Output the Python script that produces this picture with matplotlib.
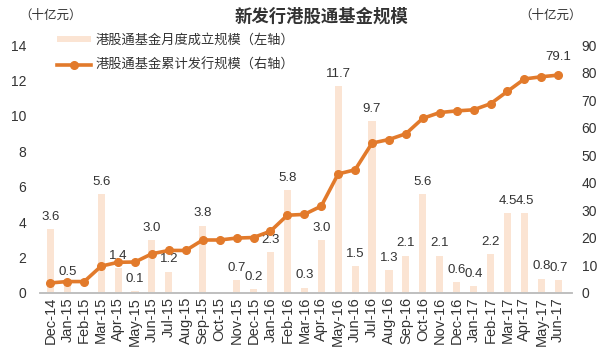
import matplotlib
matplotlib.use("Agg")
import matplotlib.pyplot as plt
from matplotlib.lines import Line2D
from matplotlib.patches import Patch

plt.rcParams["font.family"] = ["Liberation Sans", "Noto Sans CJK SC"]

months = ["Dec-14", "Jan-15", "Feb-15", "Mar-15", "Apr-15", "May-15", "Jun-15", "Jul-15",
          "Aug-15", "Sep-15", "Oct-15", "Nov-15", "Dec-15", "Jan-16", "Feb-16", "Mar-16",
          "Apr-16", "May-16", "Jun-16", "Jul-16", "Aug-16", "Sep-16", "Oct-16", "Nov-16",
          "Dec-16", "Jan-17", "Feb-17", "Mar-17", "Apr-17", "May-17", "Jun-17"]
monthly = [3.6, 0.5, 0.0, 5.6, 1.4, 0.1, 3.0, 1.2, 0.0, 3.8, 0.0, 0.7, 0.2, 2.3, 5.8, 0.3,
           3.0, 11.7, 1.5, 9.7, 1.3, 2.1, 5.6, 2.1, 0.6, 0.4, 2.2, 4.5, 4.5, 0.8, 0.7]
cumulative = [3.6, 4.1, 4.1, 9.7, 11.1, 11.2, 14.2, 15.4, 15.4, 19.2, 19.2, 19.9, 20.1,
              22.4, 28.2, 28.5, 31.5, 43.2, 44.7, 54.4, 55.7, 57.8, 63.4, 65.5, 66.1,
              66.5, 68.7, 73.2, 77.7, 78.5, 79.1]

BAR_C = "#FBE4D3"
LINE_C = "#E27A2B"
TXT_C = "#333333"

fig = plt.figure(figsize=(6.0, 3.58), dpi=100)
ax = fig.add_axes([0.067, 0.182, 0.886, 0.692])
ax2 = ax.twinx()

x = list(range(len(months)))
ax.bar(x, monthly, width=0.42, color=BAR_C, zorder=1)
for xi, v in zip(x, monthly):
    if v > 0:
        ax.text(xi, v + 0.35, f"{v:.1f}", ha="center", va="bottom", fontsize=9.5, color=TXT_C)

# cumulative line on the right axis
ax2.plot(x, cumulative, "-o", color=LINE_C, lw=2.6, ms=5.5, zorder=3)
ax2.text(x[-1], cumulative[-1] + 4.5, f"{cumulative[-1]:.1f}", ha="center", va="bottom",
         fontsize=9.5, color=TXT_C)

ax.set_xlim(-0.6, 30.8)
ax.set_ylim(0, 14)
ax2.set_ylim(0, 90)
ax.set_yticks(range(0, 15, 2))
ax2.set_yticks(range(0, 91, 10))
ax.set_xticks(x)
ax.set_xticklabels(months, rotation=90, fontsize=10.5, color=TXT_C)
ax.tick_params(axis="y", length=0, labelsize=10, labelcolor=TXT_C, pad=10)
ax2.tick_params(axis="y", length=0, labelsize=10, labelcolor=TXT_C, pad=7)
ax.tick_params(axis="x", length=0, pad=3)

for a in (ax, ax2):
    for s in ("top", "left", "right"):
        a.spines[s].set_visible(False)
    a.spines["bottom"].set_color("#BFBFBF")
    a.spines["bottom"].set_linewidth(1.2)

fig.text(0.535, 0.955, "新发行港股通基金规模", ha="center", va="center", fontsize=12.5,
         fontweight="bold", color=TXT_C)
fig.text(0.085, 0.955, "（十亿元）", ha="center", va="center", fontsize=9, color=TXT_C)
fig.text(0.918, 0.955, "（十亿元）", ha="center", va="center", fontsize=9, color=TXT_C)

handles = [Patch(facecolor=BAR_C, edgecolor="none"),
           Line2D([0], [0], color=LINE_C, lw=2.6, marker="o", ms=5.5)]
labels = ["港股通基金月度成立规模（左轴）", "港股通基金累计发行规模（右轴）"]
ax.legend(handles, labels, loc="upper left", bbox_to_anchor=(0.095, 0.905),
          bbox_transform=fig.transFigure, frameon=False, fontsize=9.5,
          handlelength=2.6, handleheight=0.35, handletextpad=0.3, labelspacing=0.9,
          labelcolor=TXT_C, borderaxespad=0, borderpad=0)

fig.savefig("out.png", dpi=100)
